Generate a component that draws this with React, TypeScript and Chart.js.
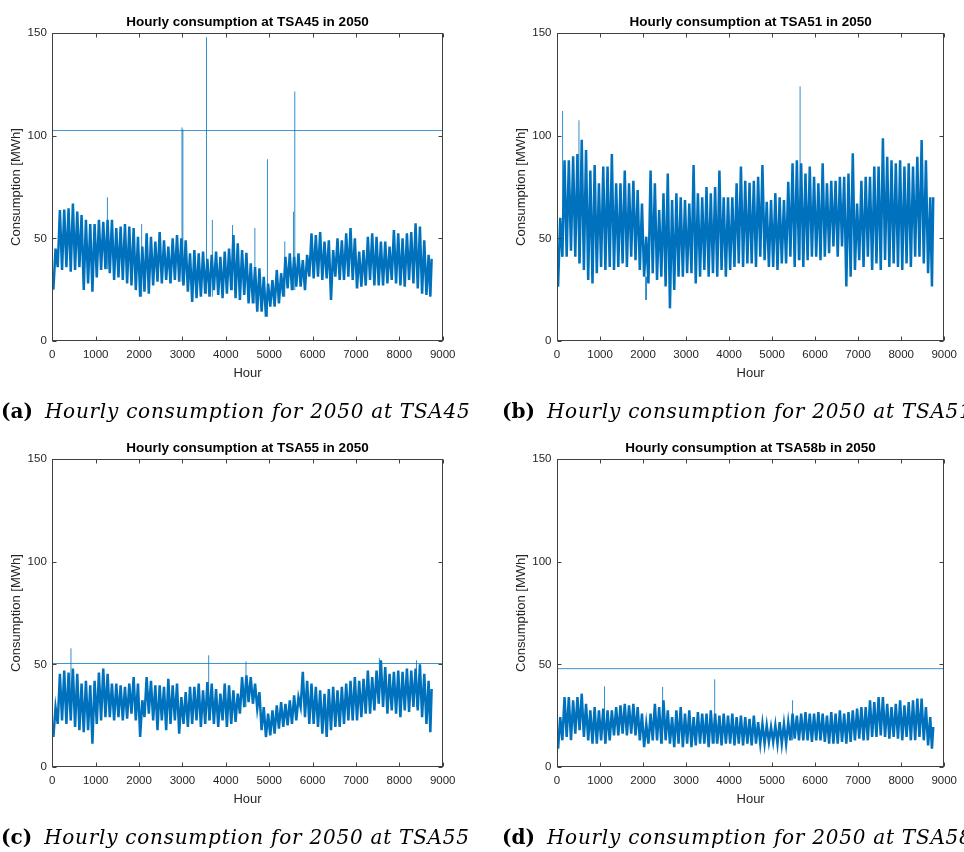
import React, { useEffect, useRef } from "react";
import { Chart, registerables } from "chart.js";

Chart.register(...registerables);

// Hourly load, summarised as the low and high of every 100-hour block (hour 0 .. 8700).
const BIN_HOURS = 100;
const LAST_HOUR = 8760;

const tsa45Low = [
  25, 36, 34.6, 36, 33.8, 34.6, 36, 24.8, 28, 24,
  31, 34.6, 35, 33, 29.7, 31, 29.7, 28, 27, 24.8,
  21.6, 24, 23, 27, 28.9, 28, 29.7, 28, 29.7, 28.9,
  27, 24, 19, 20.8, 21.6, 23, 21.6, 24.8, 22.4, 20.8,
  23, 24.8, 20.8, 20, 22.4, 18.3, 18.3, 14.3, 14.3, 11.8,
  16.7, 16.7, 18.3, 21.6, 25.6, 24.8, 26.5, 26.5, 24.8, 31.3,
  30.5, 31.3, 29.7, 30.5, 20, 31.3, 29.7, 29.7, 31.3, 29.7,
  25.6, 26.5, 27, 29.7, 27, 27, 27, 28, 29.7, 28,
  27, 26.5, 29.7, 28, 25.6, 23, 22.4, 21.6,
];
const tsa45High = [
  45, 63.8, 64, 64.6, 67, 63, 61.3, 59, 57, 57,
  59, 58, 59, 59, 55, 55.7, 57, 55.7, 55, 50.8,
  46, 52.4, 50.8, 48.4, 53, 49, 46, 50, 51.6, 50,
  49, 42.7, 44.3, 42.7, 43.5, 40, 42, 43.5, 41, 43.5,
  45, 51.6, 47.6, 44.3, 43, 37.8, 36, 35.4, 31.3, 28,
  29.7, 34.6, 33, 41, 42.7, 41, 42.7, 39.4, 42, 52.4,
  51.6, 53, 48.4, 49, 44.3, 50, 49, 52.4, 55, 50,
  43.5, 44.3, 50.8, 52.4, 50.8, 48.4, 48.4, 46, 54, 52.4,
  50, 52.4, 53, 57.3, 55.7, 49, 42, 40,
];
const tsa45SpikeHours = [1270, 2060, 2990, 3010, 3555, 3690, 4155, 4670, 4960, 5360, 5560, 5590];
const tsa45SpikeValues = [70, 57, 104, 103, 148, 59, 56.5, 55, 88.5, 48.5, 63, 121.5];
const tsa45Limit = 102.5;

const tsa51Low = [
  26.5, 41, 41, 44, 41, 37.8, 34.6, 29.7, 28, 33,
  36, 34.6, 36, 34.6, 36, 37.8, 36, 41, 39.4, 34.6,
  31.3, 28, 33, 29.7, 31.3, 26.5, 15.9, 24.8, 31.3, 31.3,
  33, 33, 28, 31.3, 34.6, 31.3, 33, 31.3, 34.6, 31.3,
  34.6, 36, 37.8, 36, 37.8, 37.8, 36, 41, 39.4, 36,
  36, 34.6, 37.8, 37.8, 41, 36, 39.4, 36, 39.4, 41,
  41, 39.4, 41, 42.7, 46, 41, 46, 26.5, 31.3, 34.6,
  39.4, 36, 41, 34.6, 37.8, 34.6, 39.4, 36, 37.8, 36,
  34.6, 37.8, 36, 41, 41, 37.8, 33, 26.5,
];
const tsa51High = [
  60, 88, 88, 90, 91, 98, 93, 83, 85.7, 76.8,
  85, 85, 91, 76.8, 76.8, 83, 76.8, 78, 73.5, 67,
  50.8, 83, 76.8, 63.8, 72, 81.6, 68.6, 72, 70, 68.6,
  67, 85.7, 72, 70, 75, 72, 75, 83, 70, 70,
  70, 76.8, 85, 78, 77, 78, 80, 85.7, 67.8, 68.6,
  72, 70, 68.6, 77.6, 86.5, 88, 86.5, 81.6, 85, 80,
  76.8, 86.5, 76.8, 78, 78, 80, 80, 81.6, 91.4, 67,
  78, 80, 80, 85, 85, 98.7, 89.7, 88, 86.5, 88,
  85, 86.5, 85, 89.7, 97.9, 88, 70, 70,
];
const tsa51SpikeHours = [130, 510, 2070, 5650];
const tsa51SpikeValues = [112, 107.5, 20, 124];

const tsa55Low = [
  14.6, 21, 22.7, 21, 22.7, 19.5, 17.9, 17, 17.9, 11.4,
  21, 22.7, 24.3, 24.3, 22.7, 24.3, 22.7, 23.5, 26, 22.7,
  14.6, 24.3, 26, 22.7, 17.9, 22.7, 17.9, 21, 22.7, 16.2,
  21, 19.5, 21, 22.7, 19.5, 21, 22.7, 21, 19.5, 22.7,
  19.5, 21, 22, 26, 29.2, 31.6, 30.8, 28.4, 17.9, 14.6,
  15.4, 16.2, 18.7, 19.5, 20.3, 21, 22.7, 29.2, 24.3, 21,
  21, 19.5, 16.2, 14.6, 17.9, 19.5, 19.5, 21, 22.7, 22.7,
  22.7, 24.3, 26, 26, 27.6, 30.8, 29.2, 26, 27.6, 26,
  24.3, 27.6, 26.8, 29.2, 27.6, 24.3, 21, 17,
];
const tsa55High = [
  29, 45.4, 47, 46, 47.9, 45.4, 40.6, 42, 39.8, 42,
  46, 47.9, 45.4, 40.6, 40.6, 39.8, 39, 40.6, 43.8, 40.6,
  32.5, 43.8, 42, 39.8, 39.8, 39, 43, 39.8, 40.6, 34,
  36.5, 39, 39, 40.6, 37.3, 41.4, 40.6, 38, 35.7, 40.6,
  39.8, 37.3, 35.7, 43.8, 44.6, 43.8, 40.6, 36.5, 29.2, 26,
  27.6, 30, 31.6, 30.8, 32.5, 34.9, 34, 46.3, 42, 40.6,
  39, 37.3, 35.7, 38, 39, 37.3, 39, 40.6, 42, 43.8,
  42, 43, 47, 43.8, 47, 52, 48.7, 45.4, 46.3, 47,
  46.3, 47.9, 47, 47.9, 50, 45.4, 42, 38,
];
const tsa55SpikeHours = [430, 3605, 4465, 7540, 8395];
const tsa55SpikeValues = [57.8, 54.4, 51.4, 53, 52];
const tsa55Limit = 50.4;

const tsa58bLow = [
  8.9, 13, 14.6, 13, 16.2, 17.9, 14.6, 13, 11.4, 11.4,
  13, 11.4, 13, 15.4, 15.4, 16.2, 15.4, 16.2, 15.4, 13,
  9.7, 11.4, 13, 13, 11.4, 13, 11.4, 9.7, 11.4, 9.7,
  11.4, 9.7, 10.5, 11.4, 11.4, 9.7, 11.4, 11.4, 10.5, 11.4,
  11.4, 10.5, 11.4, 10.5, 11.4, 10.5, 11.4, 11.4, 11.4, 12.2,
  12.2, 11.4, 11.4, 11.4, 13, 13.8, 13, 13, 13, 12.2,
  13, 13, 12.2, 11.4, 11.4, 11.4, 12.2, 11.4, 12.2, 13,
  13.8, 13, 13, 14.6, 14.6, 15.4, 14.6, 13.8, 14.6, 13.8,
  13, 14.6, 13, 13, 14.6, 13, 10.5, 8.9,
];
const tsa58bHigh = [
  24.3, 34, 34, 32.5, 34, 35.7, 30.8, 27.6, 29.2, 27.6,
  28.4, 27.6, 27.6, 29.2, 30, 30.8, 30, 30.8, 29.2, 26,
  21, 26, 30.8, 29.2, 32.5, 27.6, 24.3, 27.6, 29.2, 26,
  27.6, 24.3, 26.8, 26, 26, 27.6, 26, 25, 26, 25,
  26, 24.3, 25, 24.3, 23.5, 25, 21.9, 21, 20.3, 19.5,
  20.3, 21.9, 21, 21.9, 26, 25, 26, 26.8, 26, 26,
  26.8, 26, 25, 26.8, 26, 27.6, 26, 26.8, 27.6, 28.4,
  29.2, 29.2, 32.5, 31.6, 34, 34, 30.8, 29.2, 30.8, 32.5,
  30, 31.6, 32.5, 33.3, 33.3, 29.2, 24.3, 19.5,
];
const tsa58bSpikeHours = [1105, 2455, 3665, 5475];
const tsa58bSpikeValues = [39.3, 39, 42.7, 32.5];
const tsa58bLimit = 47.9;

const xTickStep = 1000;
const yTickStep = 50;

const LINE_BLUE = "#0072BD";
const SPIKE_BLUE = "rgba(0,114,189,0.8)";
const LIMIT_BLUE = "rgba(0,114,189,0.75)";
const AXIS_GREY = "#404040";
const TEXT_GREY = "#262626";
const SANS = '"Liberation Sans", Arial, Helvetica, sans-serif';
const SERIF = '"DejaVu Serif", "Liberation Serif", serif';

const CELL_W = 482;
const CELL_H = 426;

type Pt = { x: number; y: number | null };

// One low-to-high swing per 100-hour block.
function bandSeries(low: number[], high: number[]): Pt[] {
  const pts: Pt[] = [];
  low.forEach((v, i) => {
    const start = i * BIN_HOURS;
    const span = Math.min(BIN_HOURS, LAST_HOUR - start);
    pts.push({ x: start + span * 0.25, y: v });
    pts.push({ x: start + span * 0.75, y: high[i] });
  });
  return pts;
}

// Isolated hours: vertical strokes rising from the block's low to the recorded value.
function spikeSeries(low: number[], spikeHours: number[], spikeValues: number[]): Pt[] {
  const pts: Pt[] = [];
  spikeHours.forEach((h, i) => {
    const base = low[Math.min(low.length - 1, Math.floor(h / BIN_HOURS))];
    pts.push({ x: h, y: base });
    pts.push({ x: h, y: spikeValues[i] });
    pts.push({ x: h + 1, y: null });
  });
  return pts;
}

type Panel = {
  station: string;
  letter: string;
  col: number;
  row: number;
  low: number[];
  high: number[];
  spikeHours: number[];
  spikeValues: number[];
  limit: number | null;
};

const panels: Panel[] = [
  { station: "TSA45", letter: "a", col: 0, row: 0, low: tsa45Low, high: tsa45High, spikeHours: tsa45SpikeHours, spikeValues: tsa45SpikeValues, limit: tsa45Limit },
  { station: "TSA51", letter: "b", col: 1, row: 0, low: tsa51Low, high: tsa51High, spikeHours: tsa51SpikeHours, spikeValues: tsa51SpikeValues, limit: null },
  { station: "TSA55", letter: "c", col: 0, row: 1, low: tsa55Low, high: tsa55High, spikeHours: tsa55SpikeHours, spikeValues: tsa55SpikeValues, limit: tsa55Limit },
  { station: "TSA58b", letter: "d", col: 1, row: 1, low: tsa58bLow, high: tsa58bHigh, spikeHours: tsa58bSpikeHours, spikeValues: tsa58bSpikeValues, limit: tsa58bLimit },
];

// Boxed axes with inward ticks on all four sides, plus title and axis labels.
const framePlugin = {
  id: "frame",
  afterDraw(chart: any, _args: any, opts: any) {
    const { ctx, chartArea } = chart;
    const { left, right, top, bottom } = chartArea;
    const xs = chart.scales.x;
    const ys = chart.scales.y;
    ctx.save();
    ctx.strokeStyle = AXIS_GREY;
    ctx.lineWidth = 1;
    const L = Math.round(left) + 0.5;
    const R = Math.round(right) - 0.5;
    const T = Math.round(top) + 0.5;
    const B = Math.round(bottom) - 0.5;
    ctx.strokeRect(L, T, R - L, B - T);
    ctx.beginPath();
    xs.ticks.forEach((t: any) => {
      const px = Math.round(xs.getPixelForValue(t.value)) + 0.5;
      ctx.moveTo(px, B);
      ctx.lineTo(px, B - 4);
      ctx.moveTo(px, T);
      ctx.lineTo(px, T + 4);
    });
    ys.ticks.forEach((t: any) => {
      const py = Math.round(ys.getPixelForValue(t.value)) + 0.5;
      ctx.moveTo(L, py);
      ctx.lineTo(L + 4, py);
      ctx.moveTo(R, py);
      ctx.lineTo(R - 4, py);
    });
    ctx.stroke();

    ctx.textAlign = "center";
    ctx.textBaseline = "alphabetic";
    ctx.fillStyle = "#000";
    ctx.font = `bold 13.5px ${SANS}`;
    ctx.fillText(opts.title, (left + right) / 2, top - 7);

    ctx.fillStyle = TEXT_GREY;
    ctx.font = `13px ${SANS}`;
    ctx.fillText("Hour", (left + right) / 2, bottom + 36);

    ctx.translate(left - 32.3, (top + bottom) / 2);
    ctx.rotate(-Math.PI / 2);
    ctx.fillText("Consumption [MWh]", 0, 0);
    ctx.restore();
  },
};

function PanelChart({ panel }: { panel: Panel }) {
  const ref = useRef<HTMLCanvasElement | null>(null);

  useEffect(() => {
    if (!ref.current) return;
    const yAxisWidth = panel.col === 0 ? 52.3 : 75;
    const rightPad = panel.col === 0 ? 39.3 : 16.7;
    const datasets: any[] = [
      {
        data: spikeSeries(panel.low, panel.spikeHours, panel.spikeValues),
        borderColor: SPIKE_BLUE,
        borderWidth: 1,
        pointRadius: 0,
        spanGaps: false,
        fill: false,
      },
      {
        data: bandSeries(panel.low, panel.high),
        borderColor: LINE_BLUE,
        borderWidth: 2.5,
        borderJoinStyle: "miter",
        pointRadius: 0,
        tension: 0,
        fill: false,
      },
    ];
    if (panel.limit !== null) {
      datasets.push({
        data: [
          { x: 0, y: panel.limit },
          { x: 9000, y: panel.limit },
        ],
        borderColor: LIMIT_BLUE,
        borderWidth: 1,
        pointRadius: 0,
        fill: false,
      });
    }
    const tickFont = { family: SANS, size: 11.5 };
    const chart = new Chart(ref.current, {
      type: "line",
      data: { datasets },
      options: {
        animation: false,
        responsive: false,
        devicePixelRatio: 1,
        layout: { padding: { top: 33, right: rightPad, bottom: 0, left: 0 } },
        plugins: {
          legend: { display: false },
          tooltip: { enabled: false },
          frame: { title: `Hourly consumption at ${panel.station} in 2050` },
        } as any,
        scales: {
          x: {
            type: "linear",
            min: 0,
            max: 9000,
            afterFit: (s: any) => {
              s.height = 85;
            },
            ticks: {
              stepSize: xTickStep,
              autoSkip: false,
              maxRotation: 0,
              padding: 7,
              color: TEXT_GREY,
              font: tickFont,
              callback: (v: any) => String(v),
            },
            grid: { display: false, drawTicks: false },
            border: { display: false },
          },
          y: {
            type: "linear",
            min: 0,
            max: 150,
            afterFit: (s: any) => {
              s.width = yAxisWidth;
            },
            ticks: {
              stepSize: yTickStep,
              padding: 5.5,
              color: TEXT_GREY,
              font: tickFont,
              callback: (v: any) => String(v),
            },
            grid: { display: false, drawTicks: false },
            border: { display: false },
          },
        },
      },
      plugins: [framePlugin],
    });
    return () => chart.destroy();
  }, [panel]);

  return (
    <div
      style={{
        position: "absolute",
        left: panel.col * CELL_W,
        top: panel.row * CELL_H,
        width: CELL_W,
        height: CELL_H,
      }}
    >
      <canvas ref={ref} width={CELL_W} height={CELL_H} style={{ display: "block" }} />
      <div
        style={{
          position: "absolute",
          left: panel.col === 0 ? 1 : 20,
          top: 401,
          whiteSpace: "nowrap",
          fontFamily: SERIF,
          fontSize: 20,
          lineHeight: "20px",
          letterSpacing: "0.75px",
          color: "#000",
        }}
      >
        <b style={{ marginRight: 12, letterSpacing: 0 }}>({panel.letter})</b>
        <i>Hourly consumption for 2050 at {panel.station}</i>
      </div>
    </div>
  );
}

export default function App() {
  return (
    <div
      style={{
        position: "absolute",
        left: 0,
        top: 0,
        width: 964,
        height: 852,
        overflow: "hidden",
        background: "#fff",
      }}
    >
      {panels.map((p) => (
        <PanelChart key={p.station} panel={p} />
      ))}
    </div>
  );
}
